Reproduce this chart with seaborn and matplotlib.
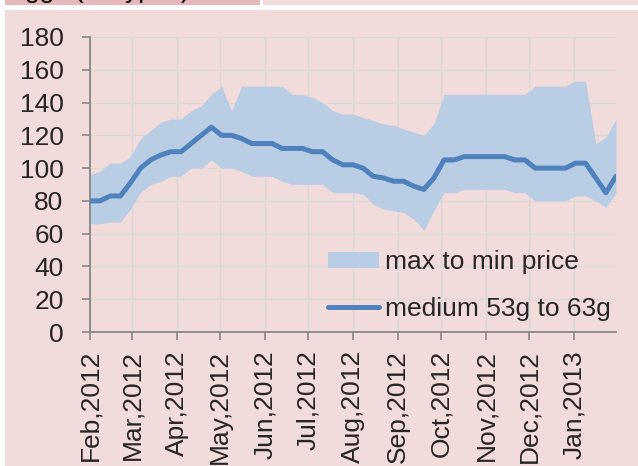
import matplotlib
matplotlib.use("Agg")
import matplotlib.pyplot as plt
import matplotlib.dates as mdates
from matplotlib.patches import Rectangle, Patch
from matplotlib.lines import Line2D
import seaborn as sns
import pandas as pd

# weekly egg prices (pence), Feb 2012 - Jan 2013
week_start = "2012-02-01"
medium_price = [80, 80, 83, 83, 91, 100, 105, 108, 110, 110,
                115, 120, 125, 120, 120, 118, 115, 115, 115, 112,
                112, 112, 110, 110, 105, 102, 102, 100, 95, 94,
                92, 92, 89, 87, 94, 105, 105, 107, 107, 107,
                107, 107, 105, 105, 100, 100, 100, 100, 103, 103,
                94, 85, 95]
max_price = [96, 98, 103, 103, 107, 118, 123, 128, 130, 130,
             135, 138, 145, 150, 135, 150, 150, 150, 150, 150,
             145, 145, 143, 140, 135, 133, 133, 131, 129, 127,
             126, 124, 122, 120, 127, 145, 145, 145, 145, 145,
             145, 145, 145, 145, 150, 150, 150, 150, 153, 153,
             115, 119, 130]
min_price = [66, 66, 67, 67, 75, 85, 90, 92, 95, 95,
             100, 100, 105, 100, 100, 98, 95, 95, 95, 92,
             90, 90, 90, 90, 85, 85, 85, 84, 78, 75,
             74, 73, 69, 62, 74, 85, 85, 87, 87, 87,
             87, 87, 85, 85, 80, 80, 80, 80, 83, 83,
             80, 76, 85]
y_ticks = list(range(0, 181, 20))

df = pd.DataFrame({
    "date": pd.date_range(week_start, periods=len(medium_price), freq="7D"),
    "medium": medium_price,
    "max": max_price,
    "min": min_price,
})

sns.set_theme(style="white")
plt.rcParams["font.family"] = ["Liberation Sans", "DejaVu Sans"]

BG = "#F2DCDB"
BAND = "#B9CDE5"
LINE = "#4F81BD"
GRID = "#D9D9D9"
AXIS = "#868686"
W, H = 638, 466

fig = plt.figure(figsize=(W / 100, H / 100), dpi=100, facecolor=BG)

# bits of the spreadsheet cropped in along the top/left edge
fig.patches.append(Rectangle((0, 0), 5 / W, 1, transform=fig.transFigure,
                             facecolor="white", edgecolor="none", zorder=5))
fig.patches.append(Rectangle((0, 1 - 10 / H), 1, 5 / H, transform=fig.transFigure,
                             facecolor="white", edgecolor="none", zorder=5))
fig.patches.append(Rectangle((5 / W, 1 - 5 / H), 255 / W, 5 / H, transform=fig.transFigure,
                             facecolor="#E6B9B8", edgecolor="none", zorder=5))
fig.patches.append(Rectangle((260 / W, 1 - 5 / H), 3 / W, 5 / H, transform=fig.transFigure,
                             facecolor="white", edgecolor="none", zorder=5))
fig.text(25 / W, 1 + 2 / H, "ggs (all types)", fontsize=19, va="baseline",
         ha="left", color="black", zorder=7)

ax = fig.add_axes([90 / W, 1 - 332 / H, (616 - 90) / W, (332 - 37) / H])
ax.set_facecolor(BG)

ax.fill_between(df["date"], df["min"], df["max"], color=BAND, linewidth=0, zorder=2)
sns.lineplot(data=df, x="date", y="medium", color=LINE, linewidth=3.6,
             solid_capstyle="round", ax=ax, zorder=3)

ax.set_xlim(df["date"].iloc[0], df["date"].iloc[-1])
ax.set_ylim(0, 180)
ax.set_yticks(y_ticks)
ax.xaxis.set_major_locator(mdates.MonthLocator())
ax.xaxis.set_major_formatter(mdates.DateFormatter("%b,%Y"))
ax.set_xlabel("")
ax.set_ylabel("")

ax.grid(True, color=GRID, linewidth=1.0, zorder=0)
ax.set_axisbelow(True)
for side in ["top", "right"]:
    ax.spines[side].set_visible(False)
for side in ["left", "bottom"]:
    ax.spines[side].set_color(AXIS)
    ax.spines[side].set_linewidth(1.3)

ax.tick_params(axis="y", direction="out", length=6, width=1.2, color=AXIS,
               labelsize=19, pad=13, left=True)
ax.tick_params(axis="x", direction="out", length=6, width=1.2, color=AXIS,
               labelsize=19, pad=7, labelrotation=90, bottom=True)

handles = [Patch(facecolor=BAND, edgecolor="none", label="max to min price"),
           Line2D([0], [0], color=LINE, linewidth=3.6, solid_capstyle="round",
                  label="medium 53g to 63g")]
ax.legend(handles=handles, loc="upper left", frameon=False, fontsize=19,
          bbox_to_anchor=(328 / W, 1 - 250 / H), bbox_transform=fig.transFigure,
          borderpad=0, borderaxespad=0, handlelength=1.95, handleheight=0.55,
          handletextpad=0.2, labelspacing=0.87)

fig.savefig("out.png", dpi=100, facecolor=BG)
